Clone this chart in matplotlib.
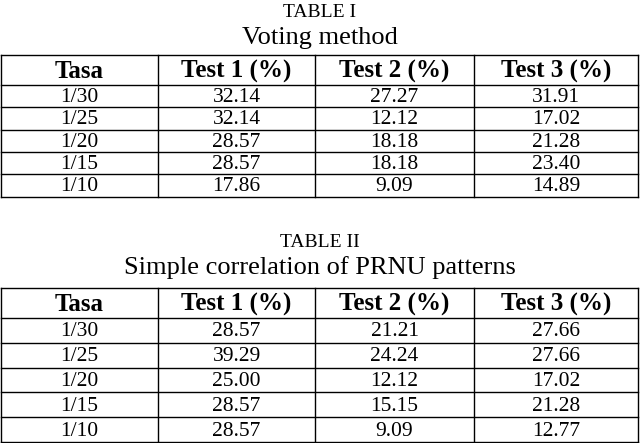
import matplotlib
matplotlib.use("Agg")
import matplotlib.pyplot as plt

plt.rcParams['font.family'] = ['Liberation Serif', 'DejaVu Serif']

headers = ["Tasa", "Test 1 (%)", "Test 2 (%)", "Test 3 (%)"]
tasa = ["1/30", "1/25", "1/20", "1/15", "1/10"]
t1_test1 = ["32.14", "32.14", "28.57", "28.57", "17.86"]
t1_test2 = ["27.27", "12.12", "18.18", "18.18", "9.09"]
t1_test3 = ["31.91", "17.02", "21.28", "23.40", "14.89"]
t2_test1 = ["28.57", "39.29", "25.00", "28.57", "28.57"]
t2_test2 = ["21.21", "24.24", "12.12", "15.15", "9.09"]
t2_test3 = ["27.66", "27.66", "17.02", "21.28", "12.77"]

W, H = 640, 443
fig = plt.figure(figsize=(W/100, H/100), dpi=100)
ax = fig.add_axes([0, 0, 1, 1])
ax.set_xlim(0, W); ax.set_ylim(H, 0); ax.axis('off')

xs = [1, 158, 315, 474, 638]

def table(label, title, ylab, ytitle, top, hh, rh, cols):
    ax.text(W/2, ylab, label, ha='center', va='center', fontsize=14)
    ax.text(W/2, ytitle, title, ha='center', va='center', fontsize=19)
    n = len(cols[0])
    ys = [top, top+hh] + [top+hh+rh*(i+1) for i in range(n)]
    for y in ys:
        ax.plot([xs[0], xs[-1]], [y, y], color='black', lw=1)
    for x in xs:
        ax.plot([x, x], [ys[0], ys[-1]], color='black', lw=1)
    for j, h in enumerate(headers):
        ax.text((xs[j]+xs[j+1])/2, top+hh/2+1.5, h, ha='center', va='center',
                fontsize=18, fontweight='bold')
    for j, col in enumerate(cols):
        for i, v in enumerate(col):
            ax.text((xs[j]+xs[j+1])/2, top+hh+rh*(i+0.5)+1.5, v, ha='center',
                    va='center', fontsize=15.5)

table("TABLE I", "Voting method", 12, 38, 55, 30, 22.3,
      [tasa, t1_test1, t1_test2, t1_test3])
table("TABLE II", "Simple correlation of PRNU patterns", 242, 268, 288, 30, 24.8,
      [tasa, t2_test1, t2_test2, t2_test3])

fig.savefig("out.png", dpi=100)
